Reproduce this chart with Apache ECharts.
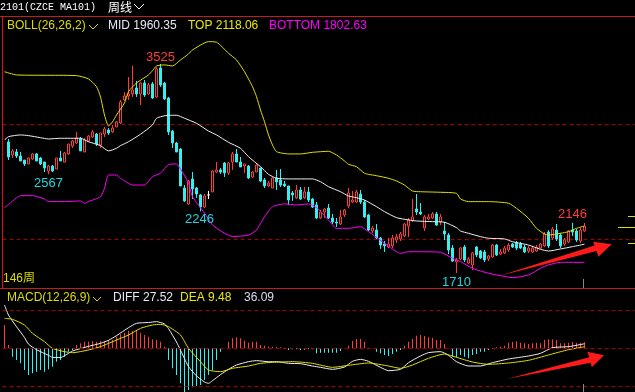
<!DOCTYPE html>
<html><head><meta charset="utf-8">
<script src="https://cdn.jsdelivr.net/npm/echarts@6/dist/echarts.min.js"></script>
<style>html,body{margin:0;padding:0;background:#000;}#c{width:635px;height:392px;}</style>
</head><body><div id="c"></div>
<script>
// ---------- DATA ----------
const slotCount = 158; // visible week slots (incl. empty right margin)
const weeks = Array.from({length: slotCount}, (_, k) => 'W' + (k + 1));

// [open, close, low, high]
const candles = [
['-','-','-','-'],
[2848,2718,2691,2874],[2735,2770,2709,2787],[2761,2726,2709,2787],[2726,2683,2683,2761],[2691,2657,2639,2691],
[2657,2709,2657,2712],[2700,2744,2691,2752],[2744,2683,2683,2752],[2709,2657,2648,2718],[2674,2622,2587,2674],
[2596,2639,2567,2648],[2639,2596,2587,2648],[2613,2709,2613,2709],[2709,2683,2683,2770],[2674,2752,2674,2761],
[2744,2830,2735,2830],[2813,2857,2796,2865],[2839,2883,2830,2935],[2874,2770,2770,2891],[2761,2865,2761,2883],
[2857,2900,2848,2909],[2891,2935,2883,2952],[2917,2830,2813,2926],[2822,2926,2796,2926],[2917,2961,2891,2978],
[2952,2926,2909,2969],[2935,2969,2926,2995],[2978,3022,2978,3030],[3013,3195,3004,3213],[3213,3247,3204,3282],
[3247,3265,3213,3412],[3265,3299,3239,3510],[3317,3265,3239,3378],[3265,3360,3169,3369],[3360,3256,3239,3386],
[3265,3343,3256,3360],[3352,3230,3221,3369],[3239,3482,3230,3499],[3491,3343,3326,3525],[3360,3221,3213,3369],
[3230,2935,2909,3239],[2943,2839,2796,2952],[2839,2761,2761,2848],[2787,2466,2466,2796],[2448,2336,2327,2474],
[2309,2509,2301,2518],[2526,2440,2353,2587],[2448,2396,2362,2457],[2388,2283,2246,2396],[2283,2379,2275,2396],
[2388,2388,2353,2422],[2414,2596,2414,2605],[2587,2605,2579,2674],[2605,2587,2570,2622],[2665,2579,2544,2674],
[2579,2665,2561,2674],[2674,2744,2605,2761],[2744,2674,2674,2787],[2674,2631,2631,2718],[2639,2657,2579,2657],
[2639,2535,2526,2648],[2544,2587,2535,2596],[2587,2648,2587,2665],[2622,2509,2500,2622],[2518,2466,2448,2535],
[2466,2492,2457,2509],[2448,2535,2448,2544],[2535,2500,2431,2605],[2518,2474,2457,2613],[2483,2466,2457,2509],
[2466,2344,2301,2466],[2405,2388,2336,2422],[2362,2431,2353,2474],[2431,2353,2344,2457],[2362,2414,2353,2457],
[2414,2344,2327,2457],[2353,2283,2275,2362],[2301,2188,2179,2327],[2188,2240,2179,2257],[2240,2266,2188,2275],
[2275,2188,2179,2309],[2188,2153,2136,2223],[2153,2144,2110,2188],[2136,2197,2127,2257],[2214,2257,2197,2266],
[2292,2405,2275,2448],[2327,2344,2318,2422],[2327,2414,2318,2431],[2396,2327,2309,2431],[2327,2197,2188,2344],
[2214,2083,2075,2223],[2075,2101,2058,2118],[2083,2014,2006,2136],[2014,1953,1919,2023],[1962,1945,1893,1988],
[1936,1962,1927,2014],[1945,2014,1927,2040],[1997,2023,1971,2049],[2006,2049,1988,2066],[2032,2136,2023,2144],
[2118,2170,2023,2188],[2162,2197,2153,2353],[2266,2240,2214,2396],[2240,2223,2214,2318],[2101,2197,2075,2214],
[2179,2197,2170,2223],[2188,2223,2179,2240],[2223,2127,2118,2240],[2153,2197,2127,2223],[2075,2049,1997,2153],
[2040,1910,1875,2058],[1927,1814,1806,1953],[1806,1823,1710,1841],[1832,1927,1823,1936],[1936,1823,1806,1953],
[1797,1832,1788,1849],[1780,1884,1736,1893],[1936,1867,1849,1945],[1901,1841,1832,1910],[1893,1823,1806,1910],
[1832,1858,1814,1867],[1849,1953,1841,1962],[1953,1867,1858,1962],[1875,1893,1867,1919],[1884,1927,1875,1945],
[1910,1953,1893,1971],[1962,1936,1927,1971],[1971,1927,1910,1988],[1962,1927,1919,1980],[1936,1893,1884,1953],
[1901,1927,1884,1945],[1893,1927,1884,1945],[1901,1936,1893,1953],[1927,1962,1919,1971],[1945,2049,1936,2066],
[2066,1945,1927,2083],[2014,2092,1997,2110],[2083,2006,1988,2136],[2040,1945,1927,2058],[1962,1997,1945,2014],
[1980,2075,1971,2083],[2083,2066,2032,2146],[2075,1997,1980,2092],[1988,2083,1971,2101],[2075,2118,2066,2144]
];

// BOLL lines: [week index, value]
const bollTop = [[0,3458],[3,3430],[18,3424],[21,3395],[23,3328],[24,3239],[25,3082],[26,2987],[27,3022],[28,3082],[30,3187],[31,3285],[33,3360],[36,3430],[37,3467],[38,3508],[40,3517],[42,3508],[44,3560],[46,3612],[47,3647],[51,3719],[53,3714],[56,3618],[58,3560],[60,3458],[62,3328],[63,3241],[64,3126],[65,3024],[66,2909],[67,2822],[68,2764],[71,2744],[74,2744],[77,2758],[81,2767],[83,2735],[85,2683],[86,2654],[88,2633],[90,2576],[91,2567],[93,2555],[96,2533],[98,2509],[100,2474],[102,2422],[104,2416],[109,2411],[113,2402],[114,2353],[116,2330],[121,2330],[126,2316],[128,2272],[131,2185],[133,2098],[135,2049],[136,2040],[139,2055],[141,2069],[143,2098],[145,2118.06]];
const bollMid = [[0,2865],[1,2894],[4,2909],[6,2903],[9,2885],[11,2874],[14,2880],[19,2880],[21,2850],[24,2816],[26,2770],[28,2793],[29,2816],[31,2850],[34,2915],[37,2996],[38,3054],[41,3080],[43,3080],[45,3054],[48,3010],[51,2943],[53,2909],[56,2845],[59,2793],[61,2720],[64,2633],[66,2567],[68,2533],[71,2527],[77,2527],[79,2503],[81,2460],[84,2416],[86,2379],[88,2364],[90,2344],[93,2286],[95,2243],[98,2191],[101,2171],[103,2162],[107,2156],[110,2151],[113,2104],[114,2075],[116,2055],[119,2026],[121,2012],[125,2006],[127,1982],[131,1953],[134,1916],[136,1901],[139,1919],[142,1939],[145,1960.35]];
const bollBottom = [[0,2277],[1,2305],[3,2362],[4,2382],[7,2382],[10,2353],[11,2330],[15,2330],[19,2336],[20,2316],[21,2330],[24,2373],[25,2446],[26,2561],[28,2561],[29,2533],[30,2509],[32,2474],[35,2474],[37,2547],[39,2576],[41,2652],[43,2657],[44,2613],[46,2492],[47,2373],[50,2231],[52,2127],[55,2055],[57,2027],[61,2040],[63,2083],[65,2199],[67,2286],[70,2310],[73,2301],[76,2310],[78,2279],[81,2170],[83,2098],[86,2098],[89,2112],[91,2069],[95,1968],[98,1895],[99,1881],[101,1895],[104,1895],[109,1890],[112,1838],[114,1810],[117,1751],[121,1708],[124,1687],[127,1670],[131,1693],[134,1751],[136,1780],[139,1803],[141,1803],[145,1802.63]];

// MACD histogram, one value per week
const macdHist = [
140,20,-50,-70,-90,-130,-160,-150,-140,-130,
-140,-126,-110,-80,-70,-50,-20,-10,20,30,
40,40,44,40,44,44,50,50,70,84,
94,106,104,110,94,80,70,54,50,40,
10,-70,-120,-160,-210,-262,-250,-234,-226,-220,
-190,-160,-130,-70,-20,2,40,60,66,60,
46,34,40,40,20,16,10,10,6,6,
4,-10,-6,-6,-10,-8,-6,-6,-30,-26,
-26,-26,-26,-26,-16,2,16,44,56,56,
40,4,2,-20,-30,-40,-46,-34,-20,-10,
16,40,56,76,80,74,66,64,50,50,
26,2,-50,-54,-40,-50,-60,-40,-34,-20,
-20,-10,-4,6,10,16,34,38,42,34,
30,26,30,34,30,50,54,54,50,30,
30,34,38,34,34,36.09
];
const diffLine = [[0,260],[1,200],[3,130],[5,65],[6,25],[8,-8],[11,-42],[12,-54],[14,-55],[16,-30],[17,-16],[21,12],[24,30],[26,48],[28,76],[31,124],[33,150],[36,155],[38,160],[40,146],[41,118],[43,38],[45,-62],[46,-110],[48,-165],[50,-202],[51,-210],[52,-194],[54,-158],[56,-126],[58,-100],[61,-80],[63,-74],[66,-80],[68,-80],[71,-90],[74,-92],[77,-106],[79,-114],[82,-126],[85,-112],[87,-78],[89,-66],[91,-78],[94,-114],[96,-134],[99,-126],[101,-86],[104,-46],[106,-26],[109,-20],[111,-42],[113,-80],[116,-106],[119,-106],[122,-86],[126,-64],[131,-46],[134,-30],[137,4],[141,10],[145,27.52]];
const deaLine = [[0,180],[2,174],[5,140],[7,90],[10,40],[12,0],[15,-20],[17,-26],[21,-10],[24,10],[27,40],[31,80],[34,120],[37,140],[39,144],[41,130],[44,80],[46,0],[49,-80],[51,-130],[54,-140],[57,-120],[61,-106],[64,-90],[67,-84],[72,-80],[77,-90],[82,-114],[86,-102],[91,-88],[96,-106],[99,-120],[102,-100],[106,-60],[110,-34],[113,-54],[117,-82],[121,-96],[126,-88],[131,-72],[136,-40],[141,-8],[145,9.48]];

// extreme-price labels: [week index, price, 'high'|'low']
const extremes = [[39,3525,'high'],[11,2567,'low'],[49,2246,'low'],[113,1710,'low'],[142,2146,'high']];
const priceLevels = [3000, 2000];
const macdLevels = [226, 0, -226];
const rightTicks = [2205, 2113, 1968];

// ---------- STYLE ----------
const RED = '#ff3c3c', CYAN = '#34f0f0', YEL = '#e0e000', MAG = '#ff00ff', WHT = '#f0f0f0';
const DASH = '#a00000';
const F = '12px "Liberation Sans", "Noto Sans CJK SC", sans-serif';

const labelOffset = {3525:[0,-7], 2567:[0,9], 2246:[-1,8], 1710:[0,9], 2146:[0,-8]};

const chart = echarts.init(document.getElementById('c'), null, {renderer: 'canvas'});
const lineSeries = (name, data, color, xi, yi) => ({
  name, type: 'line', data, xAxisIndex: xi, yAxisIndex: yi, showSymbol: false, symbol: 'none',
  smooth: 0.2, lineStyle: {color, width: 1}, silent: true, z: 3
});

chart.setOption({
  backgroundColor: '#000',
  animation: false,
  grid: [
    {left: 2.5, width: 632, top: 17, height: 271},
    {left: 2.5, width: 632, top: 288, height: 104}
  ],
  xAxis: [
    {type: 'category', gridIndex: 0, data: weeks, boundaryGap: true, show: false},
    {type: 'category', gridIndex: 1, data: weeks, boundaryGap: true, show: false}
  ],
  yAxis: [
    {type: 'value', gridIndex: 0, min: 1580, max: 3933, show: false, splitLine: {show: false}},
    {type: 'value', gridIndex: 1, min: -262, max: 362, show: false, splitLine: {show: false}}
  ],
  series: [
    {
      type: 'candlestick', xAxisIndex: 0, yAxisIndex: 0, data: candles, barWidth: 2, silent: true, z: 2,
      itemStyle: {color: '#000', color0: CYAN, borderColor: RED, borderColor0: CYAN, borderColorDoji: '#ffffff', borderWidth: 1},
      markLine: {
        symbol: ['none', 'none'], silent: true, label: {show: false}, z: 1,
        lineStyle: {color: DASH, type: [4, 3], width: 1},
        data: priceLevels.map(v => ({yAxis: v}))
      },
      markPoint: {
        symbol: 'circle', symbolSize: 1, silent: true, itemStyle: {color: 'rgba(0,0,0,0)'},
        data: extremes.map(([i, v, kind]) => ({
          coord: [i, v], value: v,
          label: {show: true, position: 'inside', offset: labelOffset[v], formatter: String(v),
                  color: kind === 'high' ? RED : '#1fd6e0', fontSize: 13, fontFamily: '"Liberation Sans", sans-serif'}
        }))
      }
    },
    lineSeries('MID', bollMid, WHT, 0, 0),
    lineSeries('TOP', bollTop, YEL, 0, 0),
    lineSeries('BOTTOM', bollBottom, MAG, 0, 0),
    {
      type: 'bar', xAxisIndex: 1, yAxisIndex: 1, data: macdHist, barWidth: 1, silent: true, z: 2,
      itemStyle: {color: p => (p.value >= 0 ? RED : CYAN)},
      markLine: {
        symbol: ['none', 'none'], silent: true, label: {show: false},
        lineStyle: {color: DASH, type: [4, 3], width: 1},
        data: macdLevels.map(v => ({yAxis: v}))
      }
    },
    lineSeries('DIFF', diffLine, WHT, 1, 1),
    lineSeries('DEA', deaLine, YEL, 1, 1)
  ]
});

// ---------- annotations / panel chrome ----------
const last = a => a[a.length - 1][1];
const txt = (text, x, y, fill, font) => ({type: 'text', silent: true, z: 10,
  style: {text, x, y, fill, font: font || F, verticalAlign: 'middle', align: 'left'}});
const seg = (x1, y1, x2, y2, stroke, w) => ({type: 'line', silent: true, z: 9,
  shape: {x1, y1, x2, y2}, style: {stroke, lineWidth: w || 1}});
const chev = (pts, stroke) => ({type: 'polyline', silent: true, z: 10, shape: {points: pts}, style: {stroke, lineWidth: 1, fill: null}});

const diffLast = last(diffLine), deaLast = last(deaLine), histLast = macdHist[macdHist.length - 1];
const tickYs = rightTicks.map(v => chart.convertToPixel({yAxisIndex: 0}, v));
const tickStarts = [628, 618, 628];

const graphics = [
  txt('2101(CZCE MA101)', 0, 7, '#ffffff', '10px "Liberation Mono", monospace'),
  txt('周线', 108, 7, '#ffffff', '12px "Noto Sans CJK SC", sans-serif'),
  chev([[134, 4], [139, 9], [144, 4]], '#ffffff'),
  seg(0, 16.5, 635, 16.5, '#c81c1c'),
  seg(2.5, 17, 2.5, 288, '#e01010'),
  seg(0, 288.5, 635, 288.5, '#c81c1c'),
  txt('BOLL(26,26,2)', 7, 26, '#dcdc00'),
  chev([[89, 25], [93, 29], [98, 24]], '#dcdc00'),
  txt('MID ' + last(bollMid).toFixed(2), 108, 26, '#e8e8f4'),
  txt('TOP ' + last(bollTop).toFixed(2), 188, 26, '#e8e800'),
  txt('BOTTOM ' + last(bollBottom).toFixed(2), 269, 26, MAG),
  txt((candles.length) + '周', 3, 279, '#dcdc00'),
  txt('MACD(12,26,9)', 7, 298, '#dcdc00'),
  chev([[93, 297], [97, 301], [101, 297]], '#dcdc00'),
  txt('DIFF ' + diffLast.toFixed(2), 113, 298, '#e8e8f4'),
  txt('DEA ' + deaLast.toFixed(2), 180, 298, '#e8e800'),
  txt(histLast.toFixed(2), 244, 298, '#dcdcf0'),
  seg(583.5, 279, 583.5, 288, '#888888'),
  seg(583.5, 384, 583.5, 392, '#888888'),
  {type: 'polygon', silent: true, z: 11, shape: {points: [[499, 276], [594.5, 245.5], [593.3, 241.7], [611.7, 244.3], [598.3, 256.7], [596.5, 251]]}, style: {fill: '#ff1a1a'}},
  {type: 'polygon', silent: true, z: 11, shape: {points: [[506.7, 379], [589.3, 357.3], [587.3, 351.7], [604, 355.3], [591.7, 367.3], [590.7, 362.7]]}, style: {fill: '#ff1a1a'}}
];
tickYs.forEach((y, k) => graphics.push(seg(tickStarts[k], Math.round(y) + 0.5, 635, Math.round(y) + 0.5, '#e0e000')));
chart.setOption({graphic: graphics});
</script>
</body></html>
